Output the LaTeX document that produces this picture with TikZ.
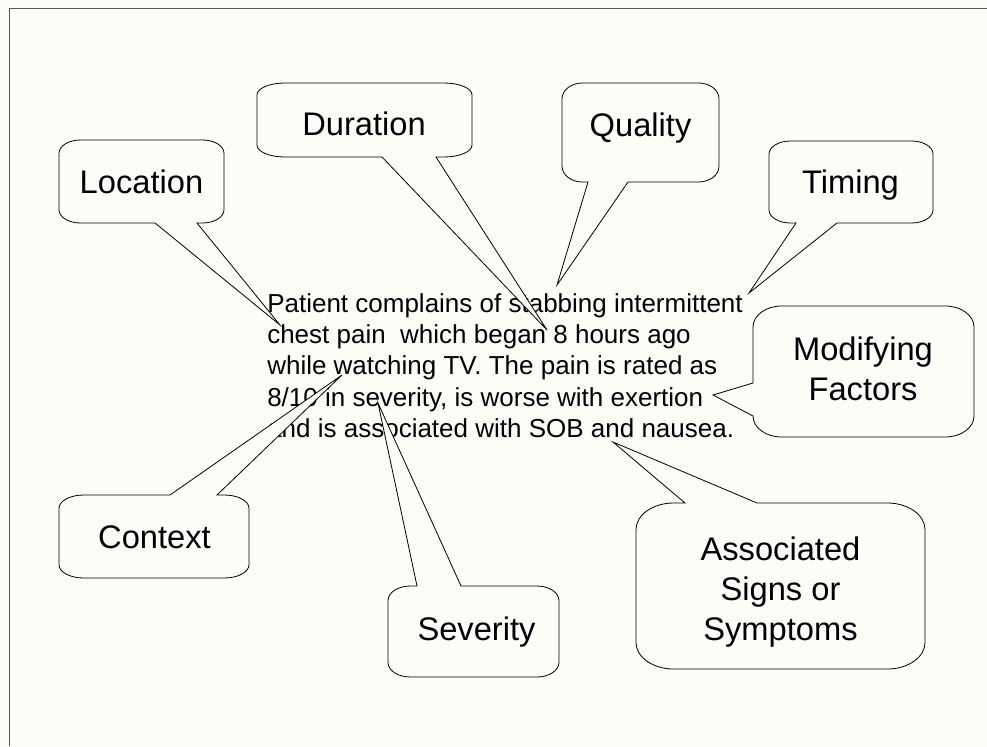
\documentclass[tikz,border=0pt]{standalone}
\usepackage{fontspec}
\setmainfont{Liberation Sans}
\definecolor{paper}{RGB}{253,252,247}
\definecolor{framegray}{RGB}{85,85,85}

% Rounded callout: #1 left, #2 top, #3 right, #4 bottom,
% #5 side carrying the tail (t/r/b/l), #6,#7 tail base along that side,
% #8 name of the coordinate the tail points to
\newcommand\bubble[8]{%
  \pgfmathsetmacro\brx{0.13*(#3-#1)}%
  \pgfmathsetmacro\bry{0.16*(#4-#2)}%
  \def\tailT{}\def\tailR{}\def\tailB{}\def\tailL{}%
  \if t#5\def\tailT{-- (#6,#2) -- (#8) -- (#7,#2)}\fi
  \if r#5\def\tailR{-- (#3,#6) -- (#8) -- (#3,#7)}\fi
  \if b#5\def\tailB{-- (#7,#4) -- (#8) -- (#6,#4)}\fi
  \if l#5\def\tailL{-- (#1,#7) -- (#8) -- (#1,#6)}\fi
  \filldraw[bubble] ({#1+\brx},#2) \tailT
    -- ({#3-\brx},#2) arc[start angle=-90,end angle=0,x radius=\brx,y radius=\bry]
    \tailR
    -- (#3,{#4-\bry}) arc[start angle=0,end angle=90,x radius=\brx,y radius=\bry]
    \tailB
    -- ({#1+\brx},#4) arc[start angle=90,end angle=180,x radius=\brx,y radius=\bry]
    \tailL
    -- (#1,{#2+\bry}) arc[start angle=180,end angle=270,x radius=\brx,y radius=\bry]
    -- cycle;}

\begin{document}
\begin{tikzpicture}[x=0.75pt,y=-0.75pt,
  bubble/.style={draw=black,line width=0.6pt,fill=paper,line join=miter},
  lbl/.style={inner sep=0pt,anchor=base,font=\fontsize{24.5}{30}\selectfont},
  hpitext/.style={inner sep=0pt,anchor=base west,font=\fontsize{19.5}{23.5}\selectfont}]

\useasboundingbox (0,0) rectangle (987,746);
\fill[paper] (0,0) rectangle (987,746);
\draw[framegray,line width=1pt] (9.3,746) -- (9.3,8.3) -- (987,8.3);

% history of present illness
\node[hpitext] (hpi) at (267,312) {\begin{tabular}[t]{@{}l@{}}
Patient complains of stabbing intermittent\\
chest pain\ \ which began 8 hours ago\\
while watching TV. The pain is rated as\\
8/10 in severity, is worse with exertion\\
and is associated with SOB and nausea.
\end{tabular}};

% points in the text the callouts refer to
\coordinate (locTip) at (280,325);
\coordinate (durTip) at (547,330);
\coordinate (qualTip) at (557,285);
\coordinate (timTip) at (749,293);
\coordinate (modTip) at (713,395);
\coordinate (ctxTip) at (342,375);
\coordinate (sevTip) at (378,403);
\coordinate (assocTip) at (613,442);

% callouts
\bubble{59}{140}{224}{223}{b}{155}{197}{locTip}
\bubble{257}{83}{472}{157}{b}{382}{436}{durTip}
\bubble{562}{83}{719}{182}{b}{588}{628}{qualTip}
\bubble{769}{141}{933}{223}{b}{796}{837}{timTip}
\bubble{753}{306}{974}{437}{l}{383}{416}{modTip}
\bubble{59}{495}{249}{578}{t}{170}{217}{ctxTip}
\bubble{388}{586}{559}{677}{t}{417}{461}{sevTip}
\bubble{636}{503}{925}{669}{t}{685}{757}{assocTip}

% callout labels
\node[lbl] (loc) at (141.5,193) {Location};
\node[lbl] (dur) at (364,135) {Duration};
\node[lbl] (qual) at (640.5,136) {Quality};
\node[lbl] (tim) at (850.5,193) {Timing};
\node[lbl] (mod) at (863,360) {\begin{tabular}[t]{@{}c@{}}Modifying\\Factors\end{tabular}};
\node[lbl] (ctx) at (154.5,548) {Context};
\node[lbl] (sev) at (476.5,640) {Severity};
\node[lbl] (assoc) at (780.5,560) {\begin{tabular}[t]{@{}c@{}}Associated\\Signs or\\Symptoms\end{tabular}};
\end{tikzpicture}
\end{document}
